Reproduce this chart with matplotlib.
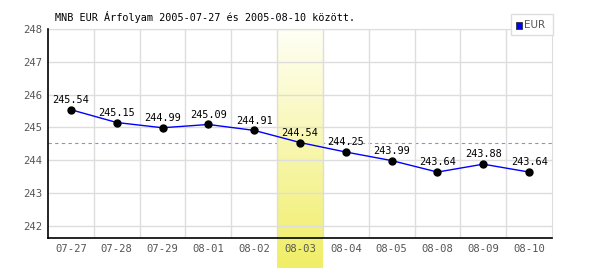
import numpy as np
import matplotlib
matplotlib.use('Agg')
import matplotlib.pyplot as plt
from matplotlib.colors import LinearSegmentedColormap
from matplotlib.patches import Rectangle

# MNB EUR árfolyamok
dates = ['07-27', '07-28', '07-29', '08-01', '08-02', '08-03',
         '08-04', '08-05', '08-08', '08-09', '08-10']
rates = [245.54, 245.15, 244.99, 245.09, 244.91, 244.54,
         244.25, 243.99, 243.64, 243.88, 243.64]
avg_line = 244.54
highlight = 5
yticks = [242, 243, 244, 245, 246, 247, 248]

fig = plt.figure(figsize=(6, 2.7), dpi=100)
ax = fig.add_axes([48/600, 1-238/270, 504/600, 209/270])

x = np.arange(len(dates))
ylo, yhi = 241.63, 248.0

# kiemelt nap: sárga színátmenet, a tengely alá is lenyúlik
cmap = LinearSegmentedColormap.from_list('hl', ['#fffff6', '#f0ee66'])
grad = np.linspace(0, 1, 256).reshape(-1, 1)
ybot = ylo - (yhi - ylo) * 30 / 209
ax.imshow(grad, cmap=cmap, aspect='auto', origin='upper',
          extent=(highlight - 0.5, highlight + 0.5, ybot, yhi),
          clip_on=False, zorder=1.5)
ax.set_xlim(-0.5, len(dates) - 0.5)
ax.set_ylim(ylo, yhi)

ax.set_yticks(yticks)
ax.set_xticks(x)
ax.set_xticklabels(dates)
ax.set_xticks(np.arange(0.5, len(dates) - 1, 1), minor=True)
ax.grid(True, which='minor', axis='x', color='#dddddd', lw=1, zorder=1)
ax.grid(True, which='major', axis='y', color='#dddddd', lw=1, zorder=1)
ax.grid(False, which='major', axis='x')

ax.axhline(avg_line, color='#8888ff', lw=0.8, ls=(0, (3, 3)), zorder=1.2)

ax.plot(x, rates, color='#0000ff', lw=1, zorder=3)
ax.plot(x, rates, 'o', color='black', ms=5, zorder=4)
for xi, r in zip(x, rates):
    ax.annotate(f'{r:.2f}', (xi, r), xytext=(0, 3.5), textcoords='offset points',
                ha='center', va='bottom', fontsize=7.4, family='DejaVu Sans Mono',
                zorder=5)

for s in ['top', 'right']:
    ax.spines[s].set_color('#dddddd')
for s in ['left', 'bottom']:
    ax.spines[s].set_color('black')
    ax.spines[s].set_linewidth(1.2)
    ax.spines[s].set_zorder(6)
ax.tick_params(which='both', length=0)
ax.tick_params(axis='y', colors='#555555', labelsize=7.6, pad=4)
ax.tick_params(axis='x', colors='#555555', labelsize=7.6, pad=4)
for lbl in ax.get_xticklabels() + ax.get_yticklabels():
    lbl.set_family('DejaVu Sans Mono')

fig.text(55/600, 1-17/270, 'MNB EUR Árfolyam 2005-07-27 és 2005-08-10 között.',
         fontsize=7.3, family='DejaVu Sans Mono', va='center', ha='left')

# jelmagyarázat
fig.patches.append(Rectangle((511/600, 1-35/270), 42/600, 21/270,
                             transform=fig.transFigure, fc='white',
                             ec='#dddddd', lw=1))
fig.patches.append(Rectangle((515.5/600, 1-28.5/270), 6/600, 6/270,
                             transform=fig.transFigure, fc='#0000ff',
                             ec='#333333', lw=0.6))
fig.text(524/600, 1-25.5/270, 'EUR', fontsize=7.5, color='#555555',
         va='center', ha='left')

fig.savefig('out.png', dpi=100)
